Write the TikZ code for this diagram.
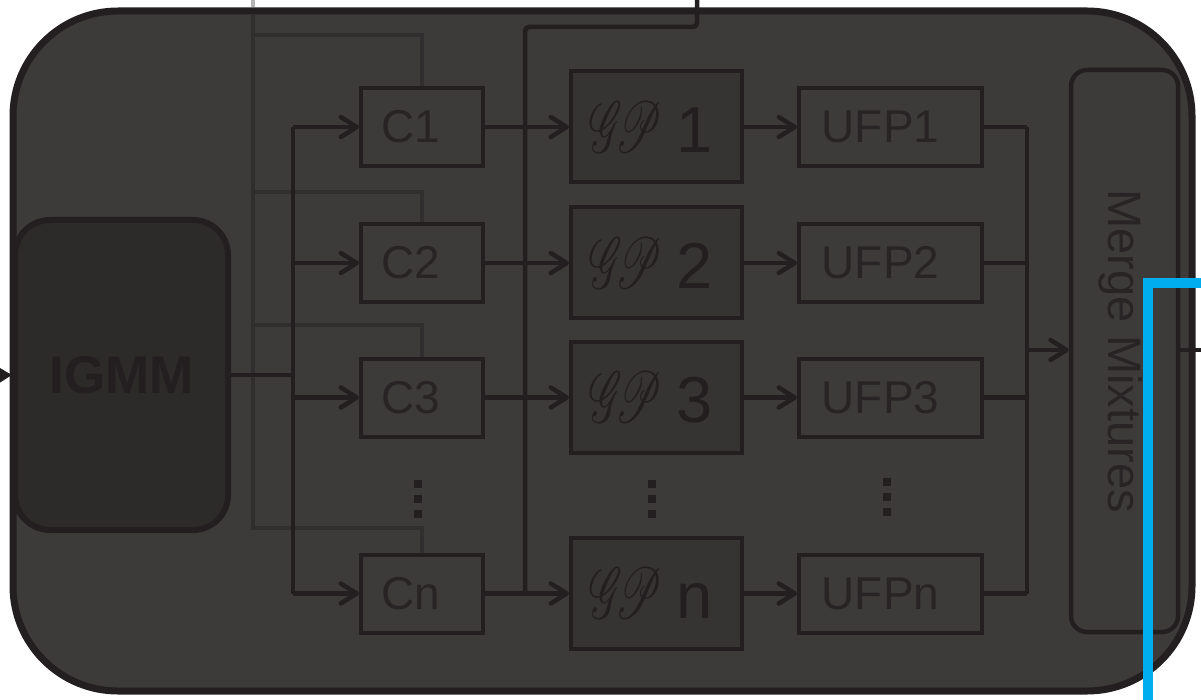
\RequirePackage{fix-cm}
\documentclass[tikz,border=0pt]{standalone}
\usepackage{fontspec}
\setmainfont{Liberation Sans}
\usetikzlibrary{arrows.meta}
\font\gpscript=rsfs10 at 72pt
\newcommand{\gpsym}{\scalebox{0.59}[1]{\gpscript GP}}
\newcommand{\tpad}[1]{\rule{#1}{0pt}}
\definecolor{bgc}{HTML}{3C3B3A}
\definecolor{ink}{HTML}{231F20}
\definecolor{igmmc}{HTML}{2D2A2A}
\definecolor{gpc}{HTML}{363333}
\definecolor{graylc}{HTML}{302E2E}
\definecolor{lightg}{HTML}{B3B3B3}
\definecolor{txtc}{HTML}{282425}
\definecolor{bluec}{HTML}{00AEEF}
\begin{document}
\begin{tikzpicture}[x=1pt,y=-1pt,
  conn/.style={draw=ink,line width=4.5pt},
  arr/.style={conn,-{Straight Barb[length=16pt,width=20pt,round]}},
  grayl/.style={draw=graylc,line width=4.5pt},
  smallbox/.style={draw=ink,line width=4pt,inner sep=0pt,text=txtc,
    minimum height=78pt,font=\fontsize{46pt}{46pt}\selectfont},
  cbox/.style={smallbox,minimum width=122pt},
  ufpbox/.style={smallbox,minimum width=183pt},
  gpbox/.style={draw=ink,line width=4pt,fill=gpc,inner sep=0pt,text=ink,
    minimum width=171pt,minimum height=111pt,font=\fontsize{65pt}{65pt}\selectfont},
  igmmbox/.style={draw=ink,line width=6pt,fill=igmmc,rounded corners=35pt,
    minimum width=213pt,minimum height=310pt,text=ink,
    font=\fontsize{53pt}{53pt}\selectfont\bfseries},
  mergebox/.style={draw=ink,line width=4.5pt,rounded corners=16pt,
    minimum width=107pt,minimum height=562pt},
  dotsq/.style={fill=ink,minimum size=8pt,inner sep=0pt}
]
\useasboundingbox (0,0) rectangle (1201,700);
\clip (0,0) rectangle (1201,700);
% outer panel
\draw[ink,line width=7pt,fill=bgc,rounded corners=105pt] (13,11) rectangle (1192,691);
% nodes
\node[igmmbox] (igmm) at (121.5,375) {IGMM};
\node[cbox] (c1) at (422,127) {C1\tpad{22pt}};
\node[cbox] (c2) at (422,263) {C2\tpad{22pt}};
\node[cbox] (c3) at (422,397.5) {C3\tpad{22pt}};
\node[cbox] (cn) at (422,593.5) {Cn\tpad{22pt}};
\node[gpbox] (g1) at (656.5,127) {\gpsym\ 1\tpad{10pt}};
\node[gpbox] (g2) at (656.5,263) {\gpsym\ 2\tpad{10pt}};
\node[gpbox] (g3) at (656.5,397.5) {\gpsym\ 3\tpad{10pt}};
\node[gpbox] (gn) at (656.5,593.5) {\gpsym\ n\tpad{10pt}};
\node[ufpbox] (u1) at (890.5,127) {UFP1\tpad{20pt}};
\node[ufpbox] (u2) at (890.5,263) {UFP2\tpad{20pt}};
\node[ufpbox] (u3) at (890.5,397.5) {UFP3\tpad{20pt}};
\node[ufpbox] (un) at (890.5,593.5) {UFPn\tpad{20pt}};
\node[mergebox] (mm) at (1124.5,351) {};
\node[rotate=-90,text=txtc,font=\fontsize{47pt}{47pt}\selectfont] (mmt) at ([xshift=-4pt]mm.center) {Merge Mixtures};
% vertical ellipses
\foreach \n/\x/\ya in {a/418/484,b/652/484,c/887/482}{
  \node[dotsq] (dot\n1) at (\x,\ya) {};
  \node[dotsq] (dot\n2) at (\x,\ya+15) {};
  \node[dotsq] (dot\n3) at (\x,\ya+30) {};
}
% coordinates
\coordinate (inL) at (-40,376);
\coordinate (busL) at (293,375);
\coordinate (busM) at (525,27);
\coordinate (topin) at (697,-5);
\coordinate (topc) at (697,27);
\coordinate (busR) at (1027,350);
\coordinate (outR) at (1215,350);
\coordinate (gtopout) at (253,-5);
\coordinate (gtopin) at (253,7.5);
\coordinate (gtop) at (253,14);
\coordinate (gbot) at (253,528);
\coordinate (bl1) at (1215,283);
\coordinate (bl2) at (1148,283);
\coordinate (bl3) at (1148,715);
% gray feedback lines
\draw[draw=lightg,line width=4.5pt] (gtopout) -- (gtopin);
\draw[grayl] (gtop) -- (gbot) -- (gbot -| cn.north) -- (cn.north);
\draw[grayl] (gtop |- 0,35) -- (c1.north |- 0,35) -- (c1.north);
\draw[grayl] (gtop |- 0,192) -- (c2.north |- 0,192) -- (c2.north);
\draw[grayl] (gtop |- 0,325) -- (c3.north |- 0,325) -- (c3.north);
% input
\draw[ink,line width=4pt,-{Triangle[length=14pt,width=16pt]}] (inL) -- (igmm.west);
% IGMM to clusters
\draw[conn] (igmm.east) -- (busL);
\draw[conn] (busL |- c1.west) -- (busL |- cn.west);
\foreach \c in {c1,c2,c3,cn}{\draw[arr] (busL |- \c.west) -- (\c.west);}
% top bus
\draw[conn,rounded corners=4pt] (topin) -- (topc) -- (busM) -- (busM |- cn.east);
% clusters to GP to UFP
\draw[arr] (c1.east) -- (g1.west);
\draw[arr] (c2.east) -- (g2.west);
\draw[arr] (c3.east) -- (g3.west);
\draw[arr] (cn.east) -- (gn.west);
\draw[arr] (g1.east) -- (u1.west);
\draw[arr] (g2.east) -- (u2.west);
\draw[arr] (g3.east) -- (u3.west);
\draw[arr] (gn.east) -- (un.west);
% UFP to merge
\foreach \u in {u1,u2,u3,un}{\draw[conn] (\u.east) -- (\u.east -| busR);}
\draw[conn] (busR |- u1.east) -- (busR |- un.east);
\draw[arr] (busR) -- (busR -| mm.west);
\draw[conn] (mm.east |- outR) -- (outR);
% blue overlay line
\draw[draw=bluec,line width=10pt] (bl1) -- (bl2) -- (bl3);
\end{tikzpicture}
\end{document}
